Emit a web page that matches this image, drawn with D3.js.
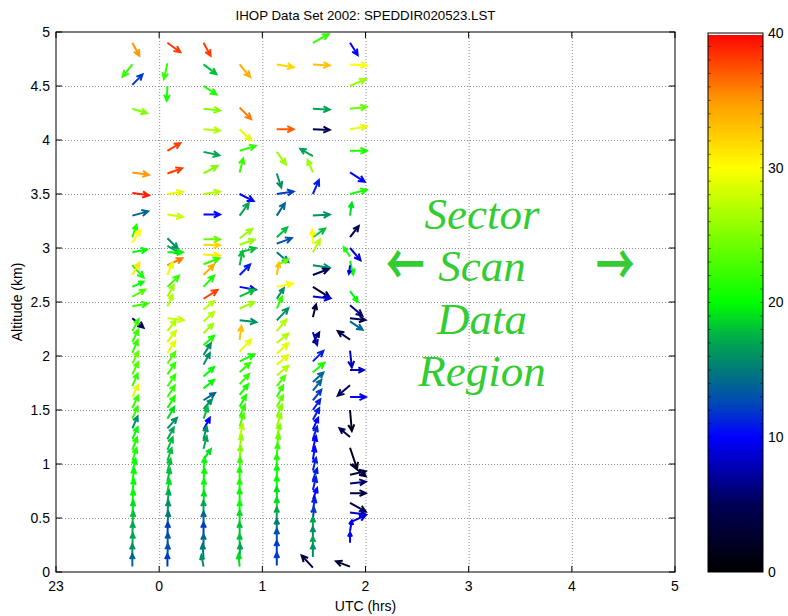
<!DOCTYPE html>
<html>
<head>
<meta charset="utf-8">
<script src="https://cdn.jsdelivr.net/npm/d3@7"></script>
<style>
  body { margin: 0; background: #fff; }
  svg { display: block; font-family: "Liberation Sans", Arial, sans-serif; }
</style>
</head>
<body>
<svg width="788" height="616"></svg>
<script>
// sounding times (hrs after 00 UTC, 23 UTC = -1)
var times = [-0.26, 0.08, 0.43, 0.78, 1.14, 1.49, 1.85];

// each arrow: [altitude km, u, v, speed m/s]
var col1 = [
  [4.90, 6.6, -12.3, 35], [4.70, -9.3, -11.7, 22], [4.51, 9.7, 10, 12], [4.29, 14, -4.3, 25],
  [3.70, 15.7, -2.3, 35], [3.51, 15.7, -2.3, 39], [3.30, 15, 4, 14], [3.10, 4, 11.7, 21],
  [3.05, 7.3, 11.7, 30], [2.96, 14, 2.7, 20], [2.84, 10.7, -11.7, 21], [2.75, 6.7, 11.7, 31],
  [2.64, 10.7, 5, 20], [2.55, 12.3, 6.7, 23], [2.46, 14.7, 2.7, 22], [2.35, 10.7, -9, 5],
  [2.23, 6, 11.5, 22], [2.13, 5.5, 11.5, 22], [2.03, 5, 12, 22], [1.93, 5.5, 11.5, 24],
  [1.83, 5.5, 11.5, 23], [1.72, 5, 12, 22], [1.62, 5.5, 11.5, 29], [1.52, 5.5, 11.5, 22],
  [1.42, 5, 11.5, 22], [1.33, 5, 11.5, 16], [1.23, 5, 11.5, 20], [1.13, 4.5, 12, 21],
  [1.03, 4, 12, 21], [0.93, 3, 12, 20], [0.84, 2, 12, 20], [0.74, 1.5, 12, 20],
  [0.64, 1, 12, 20], [0.54, 1, 12, 19], [0.44, 1, 12, 18], [0.34, 0.5, 12, 17],
  [0.24, 0.5, 12, 17], [0.14, 0, 12, 16], [0.05, 0, 12, 14]
];
var col2 = [
  [4.90, 12.3, -9, 38], [4.71, -3.3, -15, 22], [4.50, -0.7, -14, 21], [3.90, 12.3, 7.3, 38],
  [3.69, 14, 5, 38], [3.50, 14.7, 2, 29], [3.31, 14.7, -2.3, 28], [3.09, 10, -10, 16],
  [3.02, 12, -7, 17], [2.96, 14.7, 0, 20], [2.84, 14.3, 6.7, 36], [2.75, 5, 11.7, 29],
  [2.64, 11, 10.7, 22], [2.55, 6, 11, 26], [2.46, 5, 11, 27], [2.35, 15.7, -1.7, 28],
  [2.23, 8, 10.5, 27], [2.13, 8, 10.5, 28], [2.03, 7.5, 11, 29], [1.93, 7.5, 11, 23],
  [1.83, 7.5, 11, 22], [1.72, 7.5, 11, 22], [1.62, 7, 11, 22], [1.52, 7, 11, 21],
  [1.42, 6.5, 11, 19], [1.33, 9, 10, 16], [1.23, 6, 11, 17], [1.13, 5, 12, 18],
  [1.03, 4, 12, 18], [0.93, 3, 12, 18], [0.84, 2.5, 12, 18], [0.74, 2, 12, 19],
  [0.64, 1.5, 12, 17], [0.54, 1, 12, 16], [0.44, 1, 12, 15], [0.34, 0.5, 12, 12],
  [0.24, 0.5, 12, 13], [0.14, 0.5, 12, 13], [0.05, 0, 12, 12]
];
var col3 = [
  [4.90, 6.7, -12.3, 38], [4.70, 12.3, -9.3, 18], [4.50, 12.3, -8, 21], [4.29, 15.7, -1.7, 25],
  [4.10, 15.7, -1.3, 27], [3.89, 15, -3.3, 17], [3.69, 13.3, 7.3, 25], [3.50, 15.7, 2.3, 27],
  [3.31, 15.7, 0, 10], [3.08, 15.7, 0, 24], [3.03, 15.7, -0.5, 32], [2.94, 15.7, -1, 31],
  [2.85, 15, 5.7, 22], [2.75, 10, 10, 34], [2.64, 10, 10.7, 21], [2.53, 13.3, 8.3, 38],
  [2.43, 10, 8, 27], [2.32, 10, 9, 27], [2.21, 9, 9, 26], [2.10, 10, 9, 21],
  [2.01, 7, 11, 16], [1.92, 6, 11, 16], [1.81, 10, 9, 20], [1.70, 10, 8, 20],
  [1.59, 11, 7, 14], [1.51, 8, 9, 16], [1.42, 4, 11, 18], [1.32, 6, 11, 10],
  [1.23, 3, 12, 16], [1.14, 3, 12, 17], [1.04, 7, 10, 19], [0.94, 1, 12, 20],
  [0.84, 1, 12, 20], [0.74, 0.5, 12, 20], [0.63, 0.5, 12, 19], [0.54, 0, 12, 17],
  [0.44, 0, 12, 14], [0.34, 0, 12, 12], [0.23, 0, 12, 14], [0.14, -1, 12, 15],
  [0.05, -2, 11, 16]
];
var col4 = [
  [4.70, 10, -12, 34], [4.30, 11, -11, 36], [4.10, 11, -10.7, 29], [3.90, 15.3, 4.7, 22],
  [3.70, 3.3, 13.3, 22], [3.50, 13.3, -6.7, 10], [3.30, 8.7, 12, 17], [3.09, 12, 9, 26],
  [3.03, 14.3, 5, 26], [2.96, 15.3, 4, 18], [2.84, 2.7, 13.3, 18], [2.75, 10, 10, 11],
  [2.64, 15.3, -2.7, 10], [2.55, 14.3, 6.7, 18], [2.44, 14, 6, 26], [2.33, 16, -1.7, 16],
  [2.15, 1.7, 13, 33], [2.04, 11, 11.7, 29], [1.95, 14, 6.7, 21], [1.85, 10, 9, 22],
  [1.74, 9, 9.5, 22], [1.64, 8, 10, 21], [1.53, 6, 11, 21], [1.44, 5, 11, 22],
  [1.35, 4, 12, 23], [1.25, 3, 12, 27], [1.15, 2, 12, 26], [1.05, 1, 12, 25],
  [0.94, 0.5, 12, 22], [0.85, 0, 12, 21], [0.74, 0, 12, 21], [0.65, 0, 12, 20],
  [0.54, 0, 12, 20], [0.45, 0, 12, 19], [0.34, 0, 12, 18], [0.23, 0, 12, 18],
  [0.14, 0.5, 12, 17], [0.05, -1, 12, 19]
];
var col5 = [
  [4.70, 16, -2.7, 32], [4.10, 16, 0, 37], [3.89, 8.7, -12, 26], [3.69, 4.3, -13.3, 16],
  [3.50, 16, 2.3, 12], [3.30, 7.7, 11.7, 14], [3.10, 10, 9.3, 18], [3.04, 14.3, 5.3, 13],
  [2.96, 11, -9.3, 15], [2.84, 11, 5.7, 24], [2.75, 2, 11.7, 33], [2.64, 15.3, 3.3, 30],
  [2.53, 6.7, 10, 16], [2.44, 5, 11, 22], [2.33, 11, 11.7, 16], [2.23, 9, 11, 27],
  [2.12, 11, 9, 27], [2.02, 11, 10, 29], [1.92, 11, 9, 29], [1.82, 11, 9, 27],
  [1.72, 8, 10, 23], [1.62, 6, 11, 22], [1.53, 6, 11, 24], [1.44, 5, 11, 25],
  [1.35, 4, 12, 26], [1.25, 3, 12, 25], [1.16, 2, 12, 24], [1.07, 1, 12, 22],
  [0.97, 0, 12, 21], [0.87, 0, 12, 20], [0.77, 0, 12, 20], [0.67, 0, 12, 19],
  [0.57, 0, 12, 19], [0.48, 0, 12, 17], [0.37, 0, 12, 15], [0.28, 0, 12, 13],
  [0.17, 0, 12, 12], [0.06, 0, 12, 12]
];
var col6 = [
  [4.90, 15, 8.3, 22], [4.70, 16, -1, 33], [4.29, 16, -1, 17], [4.10, 16, -0.7, 5],
  [3.85, -12, 7, 17], [3.70, -5, 12, 26], [3.50, 5.7, 13.3, 11], [3.30, 16, 1, 16],
  [3.10, 11.7, 8.3, 18], [3.04, -0.7, 13.3, 30], [2.96, 6.7, 12.3, 27], [2.84, 16, -2.3, 16],
  [2.75, 15, 5.7, 5], [2.64, 16, -10, 3], [2.55, 16.7, -1.7, 9], [2.36, 3, 12, 4],
  [2.22, 4, -12, 8], [2.12, 6, 10, 6], [1.95, 10, 10, 11], [1.85, 11, 9, 21],
  [1.76, 10, 9, 14], [1.68, 8, 10, 14], [1.59, 8, 10, 12], [1.50, 7, 10, 11],
  [1.41, 6, 11, 11], [1.32, 5, 11, 10], [1.23, 4, 12, 11], [1.14, 3, 12, 10],
  [1.04, 2, 12, 10], [0.94, 3, 12, 11], [0.85, 4, 11, 11], [0.76, 3, 12, 11],
  [0.67, 4, 11, 10], [0.57, 2, 12, 11], [0.48, 1, 12, 12], [0.39, 0, 12, 17],
  [0.30, 0, 12, 16], [0.21, 0, 12, 17], [0.14, 0, 12, 16], [0.04, -10.7, 11.7, 4]
];
var col7 = [
  [4.90, 7.3, -11.7, 10], [4.70, 16, -1, 30], [4.50, 15, 6.7, 26], [4.29, 16, 1.7, 24],
  [4.10, 16, 2.7, 29], [3.90, 16, 0, 21], [3.70, 14, -9, 10], [3.50, 16, 4, 21],
  [3.30, 1.7, 12.3, 19], [3.10, 8.3, 10.7, 5], [3.00, 10, -11.7, 9], [2.92, -6, 9, 21],
  [2.88, 3, -13, 20], [2.84, -1, -8, 9], [2.60, 7.3, -10, 20], [2.47, 11.7, -10, 6],
  [2.35, 14.7, -1.7, 5], [2.32, 12, -8, 14], [2.15, -11.7, 8.3, 4], [2.05, 1.7, -16, 8],
  [1.87, 13.3, 0, 8], [1.73, -11.7, -10, 5], [1.62, 15, 0, 10], [1.50, 1.7, -20, 2],
  [1.25, -10, 8.3, 5], [1.15, 6.7, -20, 2], [1.00, 15, -11.7, 3], [0.90, 15, 3.3, 4],
  [0.82, 15, 1.7, 6], [0.73, 15, 0, 4], [0.64, 15, -8.3, 4], [0.55, 15, -1.7, 8],
  [0.46, 15, 6.7, 9], [0.38, 1.7, 10, 9], [0.27, 0, 10, 10], [0.05, -13.3, 5, 3]
];
var columns = [col1, col2, col3, col4, col5, col6, col7];

var xTicks = [-1, 0, 1, 2, 3, 4, 5];
var xTickLabels = ["23", "0", "1", "2", "3", "4", "5"];
var yTicks = [0, 0.5, 1, 1.5, 2, 2.5, 3, 3.5, 4, 4.5, 5];
var cbTicks = [0, 10, 20, 30, 40];

// colour map stops (speed -> colour)
var cmapStops = [0, 5, 10, 12.5, 15, 17.5, 20, 25, 30, 35, 40];
var cmapColors = ["#000000", "#000055", "#0000ff", "#0048b8", "#007a78", "#00b048",
  "#00ff00", "#80ff00", "#ffff00", "#ff9900", "#ff0000"];

var svg = d3.select("svg");
var x = d3.scaleLinear().domain([-1, 5]).range([56, 675]);
var y = d3.scaleLinear().domain([0, 5]).range([572, 32]);
var color = d3.scaleLinear().domain(cmapStops).range(cmapColors).interpolate(d3.interpolateRgb);
var quiverScale = 1.05;

// grid
var grid = svg.append("g").attr("stroke", "#8c8c8c").attr("stroke-dasharray", "1,2").attr("stroke-width", 1);
grid.selectAll(".gx").data(xTicks.slice(1, -1)).enter().append("line")
  .attr("x1", d => x(d) + 0.5).attr("x2", d => x(d) + 0.5).attr("y1", y(5)).attr("y2", y(0));
grid.selectAll(".gy").data(yTicks.slice(1, -1)).enter().append("line")
  .attr("x1", x(-1)).attr("x2", x(5)).attr("y1", d => y(d) + 0.5).attr("y2", d => y(d) + 0.5);

// arrows
var arrows = [];
columns.forEach(function (col, i) {
  col.forEach(function (a) {
    arrows.push({ t: times[i], alt: a[0], u: a[1], v: a[2], spd: a[3] });
  });
});

function arrowPath(d) {
  var x0 = x(d.t), y0 = y(d.alt);
  var dx = d.u * quiverScale, dy = -d.v * quiverScale;
  var x1 = x0 + dx, y1 = y0 + dy;
  var len = Math.sqrt(dx * dx + dy * dy);
  var ang = Math.atan2(dy, dx);
  var h = Math.min(7, len * 0.45);
  var b = 0.45;
  var bx1 = x1 - h * Math.cos(ang - b), by1 = y1 - h * Math.sin(ang - b);
  var bx2 = x1 - h * Math.cos(ang + b), by2 = y1 - h * Math.sin(ang + b);
  return "M" + x0 + "," + y0 + "L" + x1 + "," + y1 +
    "M" + bx1 + "," + by1 + "L" + x1 + "," + y1 + "L" + bx2 + "," + by2;
}

svg.append("g").selectAll("path").data(arrows).enter().append("path")
  .attr("d", arrowPath)
  .attr("fill", "none")
  .attr("stroke", d => color(d.spd))
  .attr("stroke-width", 2)
  .attr("stroke-linejoin", "miter");

// axes frame and inside ticks
svg.append("rect").attr("x", x(-1)).attr("y", y(5)).attr("width", x(5) - x(-1)).attr("height", y(0) - y(5))
  .attr("fill", "none").attr("stroke", "#000").attr("stroke-width", 1);
var tk = svg.append("g").attr("stroke", "#000").attr("stroke-width", 1);
xTicks.forEach(function (d) {
  tk.append("line").attr("x1", x(d)).attr("x2", x(d)).attr("y1", y(0)).attr("y2", y(0) - 6);
  tk.append("line").attr("x1", x(d)).attr("x2", x(d)).attr("y1", y(5)).attr("y2", y(5) + 6);
});
yTicks.forEach(function (d) {
  tk.append("line").attr("x1", x(-1)).attr("x2", x(-1) + 6).attr("y1", y(d)).attr("y2", y(d));
  tk.append("line").attr("x1", x(5)).attr("x2", x(5) - 6).attr("y1", y(d)).attr("y2", y(d));
});

svg.append("g").selectAll("text").data(xTicks).enter().append("text")
  .attr("x", d => x(d)).attr("y", y(0) + 19).attr("text-anchor", "middle")
  .attr("font-size", 14).text((d, i) => xTickLabels[i]);
svg.append("g").selectAll("text").data(yTicks).enter().append("text")
  .attr("x", x(-1) - 6).attr("y", d => y(d)).attr("dy", "0.35em").attr("text-anchor", "end")
  .attr("font-size", 14).text(d => d);

svg.append("text").attr("x", (x(-1) + x(5)) / 2).attr("y", 20).attr("text-anchor", "middle")
  .attr("font-size", 13.3).text("IHOP Data Set 2002: SPEDDIR020523.LST");
svg.append("text").attr("x", (x(-1) + x(5)) / 2).attr("y", 611).attr("text-anchor", "middle")
  .attr("font-size", 14).text("UTC (hrs)");
svg.append("text").attr("transform", "translate(22," + ((y(0) + y(5)) / 2) + ") rotate(-90)")
  .attr("text-anchor", "middle").attr("font-size", 14).text("Altitude (km)");

// annotation
var note = svg.append("g").attr("fill", "#33cc33")
  .attr("font-family", "'Liberation Serif', 'Times New Roman', serif")
  .attr("font-style", "italic").attr("font-size", 45).attr("text-anchor", "middle");
var noteLines = ["Sector", "Scan", "Data", "Region"];
var noteAlts = [3.18, 2.69, 2.20, 1.72];
noteLines.forEach(function (s, i) {
  note.append("text").attr("x", x(3.13)).attr("y", y(noteAlts[i])).text(s);
});
var arrowGlyphs = note.append("g").attr("font-family", "'Noto Sans CJK SC', sans-serif")
  .attr("font-style", "normal").attr("font-weight", "bold").attr("font-size", 39);
[[2.385, "\u2190"], [4.42, "\u2192"]].forEach(function (g) {
  arrowGlyphs.append("text")
    .attr("transform", "translate(" + x(g[0]) + "," + y(2.85) + ") scale(1,1.45)")
    .attr("dy", "0.36em").text(g[1]);
});

// colorbar
var cb = d3.scaleLinear().domain([0, 40]).range([572, 33]);
var cbX = 708, cbW = 55;
var grad = svg.append("defs").append("linearGradient").attr("id", "cmap")
  .attr("x1", 0).attr("y1", 1).attr("x2", 0).attr("y2", 0);
grad.selectAll("stop").data(cmapStops).enter().append("stop")
  .attr("offset", d => d / 40).attr("stop-color", d => color(d));
svg.append("rect").attr("x", cbX).attr("y", cb(40)).attr("width", cbW).attr("height", cb(0) - cb(40))
  .attr("fill", "url(#cmap)");
svg.append("rect").attr("x", cbX).attr("y", cb(40)).attr("width", cbW).attr("height", 2).attr("fill", "#fff");
svg.append("rect").attr("x", cbX).attr("y", cb(40)).attr("width", cbW).attr("height", cb(0) - cb(40))
  .attr("fill", "none").attr("stroke", "#000");
var cbMinor = d3.range(1, 40);
var cbt = svg.append("g").attr("stroke", "#000").attr("stroke-opacity", 0.45);
cbt.selectAll(".l").data(cbMinor).enter().append("line")
  .attr("x1", cbX).attr("x2", cbX + 3).attr("y1", d => cb(d)).attr("y2", d => cb(d));
cbt.selectAll(".r").data(cbMinor).enter().append("line")
  .attr("x1", cbX + cbW).attr("x2", cbX + cbW - 3).attr("y1", d => cb(d)).attr("y2", d => cb(d));
svg.append("g").selectAll("text").data(cbTicks).enter().append("text")
  .attr("x", cbX + cbW + 5).attr("y", d => cb(d)).attr("dy", "0.35em")
  .attr("font-size", 14).text(d => d);
</script>
</body>
</html>
